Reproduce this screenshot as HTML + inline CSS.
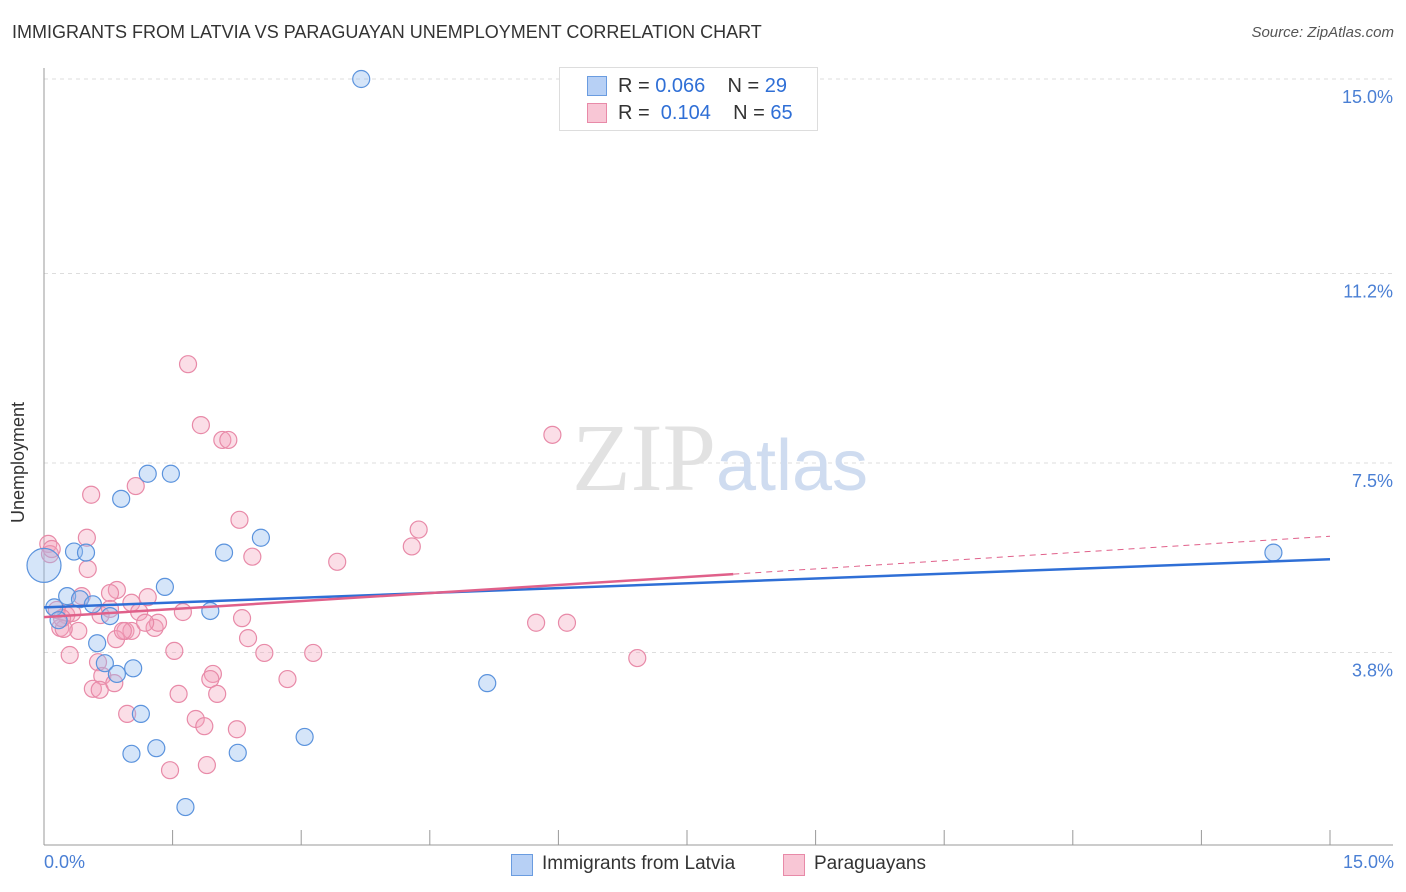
<!DOCTYPE html>
<html><head><meta charset="utf-8">
<style>
body{margin:0;background:#fff;font-family:"Liberation Sans",sans-serif;}
#wrap{position:relative;width:1406px;height:892px;overflow:hidden}
.t{position:absolute;white-space:nowrap}
</style></head><body>
<div id="wrap">
<div class="t" style="left:12px;top:22px;font-size:18px;color:#333">IMMIGRANTS FROM LATVIA VS PARAGUAYAN UNEMPLOYMENT CORRELATION CHART</div>
<div class="t" style="right:12px;top:24px;font-size:15px;color:#555;font-style:italic">Source: ZipAtlas.com</div>
<svg id="svg" width="1406" height="892" style="position:absolute;left:0;top:0"></svg>
</div>
<script>
const yTicks=[15.0,11.2,7.5,3.8];
const yTickLabels=["15.0%","11.2%","7.5%","3.8%"];
const latviaX=[3.70,0.0,0.12,0.27,0.17,0.35,0.49,0.42,0.57,0.77,0.62,0.90,1.21,1.48,1.41,2.10,2.53,1.94,0.71,1.04,0.85,1.13,1.02,1.31,2.26,3.04,1.65,5.17,14.34];
const latviaY=[15.0,5.5,4.68,4.9,4.43,5.77,5.75,4.84,4.74,4.51,3.98,6.8,7.29,7.29,5.08,5.75,6.04,4.61,3.59,3.49,3.38,2.6,1.82,1.93,1.84,2.15,0.78,3.2,5.75];
const parX=[1.68,1.83,2.08,2.15,5.93,0.55,1.07,2.28,4.37,0.50,4.29,2.43,3.42,0.05,0.07,0.51,0.85,1.21,0.77,1.02,1.62,2.31,1.11,0.15,0.26,0.33,0.19,0.40,0.23,0.66,0.95,1.02,1.29,1.33,0.84,2.38,1.52,2.57,3.14,0.30,0.63,5.74,6.10,6.92,0.68,1.97,1.94,2.84,0.57,0.65,0.82,1.57,2.02,0.97,1.77,1.87,2.25,1.47,1.90,0.09,0.44,0.21,0.92,1.18,0.77];
const parY=[9.43,8.24,7.95,7.95,8.05,6.88,7.05,6.39,6.2,6.04,5.87,5.67,5.57,5.92,5.72,5.43,5.02,4.88,4.96,4.77,4.59,4.47,4.59,4.63,4.53,4.57,4.28,4.22,4.26,4.53,4.22,4.22,4.28,4.38,4.06,4.08,3.83,3.79,3.79,3.75,3.61,4.38,4.38,3.69,3.34,3.38,3.28,3.28,3.09,3.07,3.2,2.99,2.99,2.6,2.5,2.36,2.3,1.5,1.6,5.82,4.9,4.47,4.22,4.38,4.65];
const NS="http://www.w3.org/2000/svg";
const svg=document.getElementById('svg');
const X=v=>44+v*(1286/15);
const Y=v=>79+(15-v)*51.2;
function mk(tag,a,p){const e=document.createElementNS(NS,tag);for(const k in a)e.setAttribute(k,a[k]);(p||svg).appendChild(e);return e;}
yTicks.forEach((v,i)=>{
 const g=mk('line',{x1:44,x2:1393,y1:Y(v),y2:Y(v),stroke:'#ddd','stroke-dasharray':'4,4'});
 
 
 const t=mk('text',{x:1393,y:Y(v)+24,'text-anchor':'end','font-size':18,fill:'#4a7fd4','font-family':'Liberation Sans'});
 t.textContent=yTickLabels[i];
 
 
});
const ax=mk('line',{x1:44,x2:1393,y1:845,y2:845,stroke:'#999'});


const ay=mk('line',{x1:44,x2:44,y1:68,y2:845,stroke:'#999'});


for(let i=0;i<=10;i++){const tk=mk('line',{x1:X(i*1.5),x2:X(i*1.5),y1:830,y2:845,stroke:'#999'});
 
 }
const wm=mk('text',{x:720,y:490,'text-anchor':'middle','font-size':96,'font-family':'Liberation Serif',fill:'#e2e2e2'});
wm.innerHTML='ZIP<tspan fill="#cfdcf0" font-family="Liberation Sans" font-size="72">atlas</tspan>';


parX.forEach((x,i)=>{const c=mk('circle',{cx:X(x),cy:Y(parY[i]),r:8.5,fill:'rgba(244,160,185,0.35)',stroke:'#e88aa8','stroke-width':1.2});
 
 });
latviaX.forEach((x,i)=>{const c=mk('circle',{cx:X(x),cy:Y(latviaY[i]),r:i==1?17:8.5,fill:'rgba(150,190,240,0.4)',stroke:'#5b93dd','stroke-width':1.2});
 
 });
const bl=mk('line',{x1:X(0),y1:Y(4.68),x2:X(15),y2:Y(5.62),stroke:'#2f6fd6','stroke-width':2.5});


const pl=mk('line',{x1:X(0),y1:Y(4.49),x2:X(8.04),y2:Y(5.33),stroke:'#e0608a','stroke-width':2.5});


const pd=mk('line',{x1:X(8.04),y1:Y(5.33),x2:X(15),y2:Y(6.07),stroke:'#e0608a','stroke-width':1,'stroke-dasharray':'6,5'});


</script>
<div class="t" style="left:44px;top:852px;font-size:18px;color:#4a7fd4">0.0%</div>
<div class="t" style="right:12px;top:852px;font-size:18px;color:#4a7fd4">15.0%</div>
<div class="t" style="left:8px;top:456px;font-size:18px;color:#333;transform:rotate(-90deg);transform-origin:left top;top:523px">Unemployment</div>
<div style="position:absolute;left:559px;top:67px;width:257px;height:62px;border:1px solid #ddd;background:#fff">
 <div style="position:absolute;left:27px;top:8px;width:18px;height:18px;background:#b7d0f5;border:1px solid #6a9ce0"></div>
 <div class="t" style="left:58px;top:7px;font-size:20px;color:#333">R = <span style="color:#2f6fd6">0.066</span>&nbsp;&nbsp;&nbsp; N = <span style="color:#2f6fd6">29</span></div>
 <div style="position:absolute;left:27px;top:35px;width:18px;height:18px;background:#f8c6d5;border:1px solid #e88aa8"></div>
 <div class="t" style="left:58px;top:34px;font-size:20px;color:#333">R = &nbsp;<span style="color:#2f6fd6">0.104</span>&nbsp;&nbsp;&nbsp; N = <span style="color:#2f6fd6">65</span></div>
</div>
<div style="position:absolute;left:511px;top:854px;width:20px;height:20px;background:#b7d0f5;border:1px solid #6a9ce0"></div>
<div class="t" style="left:542px;top:853px;font-size:19px;color:#333">Immigrants from Latvia</div>
<div style="position:absolute;left:783px;top:854px;width:20px;height:20px;background:#f8c6d5;border:1px solid #e88aa8"></div>
<div class="t" style="left:814px;top:853px;font-size:19px;color:#333">Paraguayans</div>
</body></html>
